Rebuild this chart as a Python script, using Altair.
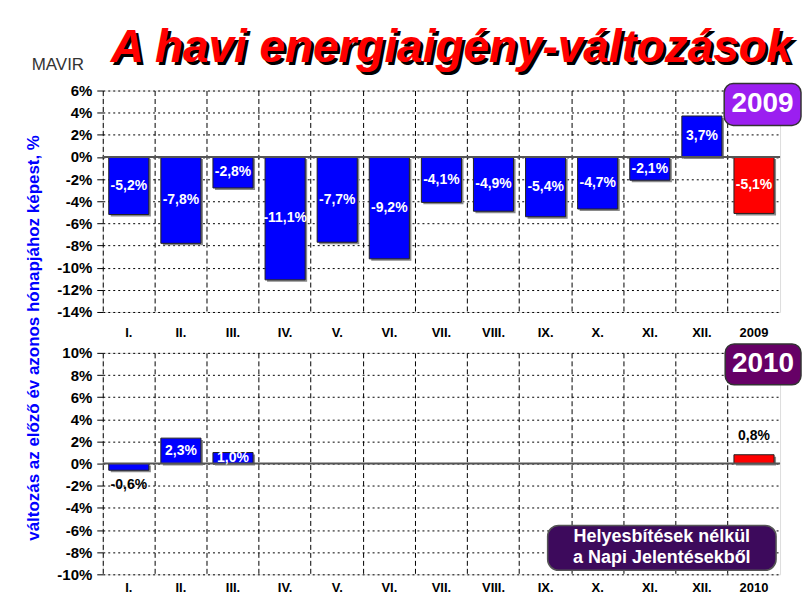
import altair as alt
import pandas as pd

# ---------------- data ----------------
months = ["I.", "II.", "III.", "IV.", "V.", "VI.", "VII.", "VIII.", "IX.", "X.", "XI.", "XII."]
cats_2009 = months + ["2009"]
vals_2009 = [-5.2, -7.8, -2.8, -11.1, -7.7, -9.2, -4.1, -4.9, -5.4, -4.7, -2.1, 3.7, -5.1]
cats_2010 = months + ["2010"]
vals_2010 = [-0.6, 2.3, 1.0, None, None, None, None, None, None, None, None, None, 0.8]
y_dom_2009 = [-14, 6]
y_dom_2010 = [-10, 10]
title_text = "A havi energiaigény-változások"
y_title_text = "változás az előző év azonos hónapjához képest, %"
note_lines = ["Helyesbítések nélkül", "a Napi Jelentésekből"]

FONT = "Liberation Sans"
W, H = 679, 222


def frame(cats, vals):
    rows = []
    for c, v in zip(cats, vals):
        if v is None:
            continue
        rows.append({
            "cat": c, "val": v, "mid": v / 2,
            "label": f"{v:.1f}%".replace(".", ","),
            "kind": "year" if c.isdigit() else "month",
            "place": "in" if abs(v) >= 0.9 else ("below" if v < 0 else "above"),
        })
    return pd.DataFrame(rows)


def one(text):
    return pd.DataFrame({"t": [text]})


def txt(text, x, y, **kw):
    return alt.Chart(one(text)).mark_text(**kw).encode(
        x=alt.value(x), y=alt.value(y), text="t:N")


def box(x, x2, y, y2, **kw):
    return alt.Chart(one("")).mark_rect(**kw).encode(
        x=alt.value(x), x2=alt.value(x2), y=alt.value(y), y2=alt.value(y2))


def panel(cats, vals, ydom, extras, xlab_pad):
    df = frame(cats, vals)
    base = alt.Chart(df)
    x = alt.X("cat:N", sort=cats, title=None,
              scale=alt.Scale(domain=cats, paddingInner=0, paddingOuter=0),
              axis=alt.Axis(labelAngle=0, ticks=False, domain=False, grid=True,
                            bandPosition=0, gridDash=[5, 3], gridColor="black",
                            gridWidth=1, labelPadding=xlab_pad, labelFont=FONT,
                            labelFontSize=13, labelFontWeight="bold",
                            labelColor="black"))
    yvals = list(range(ydom[0], ydom[1] + 1, 2))
    yscale = alt.Scale(domain=ydom, nice=False, zero=False)
    y = alt.Y("val:Q", title=None, scale=yscale,
              axis=alt.Axis(values=yvals, labelExpr="datum.value + '%'",
                            labelOverlap=False, grid=True, gridDash=[2, 3],
                            gridColor="black", gridWidth=1,
                            domain=False, tickSize=6, tickColor="black",
                            labelPadding=5, labelFont=FONT, labelFontSize=15,
                            labelFontWeight="bold", labelColor="black"))
    color = alt.Color("kind:N", legend=None,
                      scale=alt.Scale(domain=["month", "year"], range=["#0000FF", "#FF0000"]))
    shadow = base.mark_bar(color="#8a8a8a", xOffset=2, yOffset=2,
                           width=alt.RelativeBandSize(0.77)).encode(x=x, y=y)
    bars = base.mark_bar(stroke="#222222", strokeWidth=1,
                         width=alt.RelativeBandSize(0.77)).encode(x=x, y=y, color=color)
    zero = alt.Chart(pd.DataFrame({"val": [0]})).mark_rule(color="#555555", strokeWidth=2).encode(y=y)
    tstyle = dict(font=FONT, fontSize=14, fontWeight="bold", baseline="middle")
    t_in = base.transform_filter("datum.place === 'in'").transform_calculate(
        val="datum.mid").mark_text(color="white", **tstyle).encode(x=x, y=y, text="label:N")
    t_below = base.transform_filter("datum.place === 'below'").mark_text(
        color="black", dy=15, **tstyle).encode(x=x, y=y, text="label:N")
    t_above = base.transform_filter("datum.place === 'above'").mark_text(
        color="black", dy=-19, **tstyle).encode(x=x, y=y, text="label:N")
    return alt.layer(shadow, bars, zero, t_in, t_below, t_above, *extras).properties(width=W, height=H)


top_extras = [
    txt(".", -89, -76, opacity=0, align="left", baseline="top", fontSize=2),
    txt(title_text, 11, -26, font=FONT, fontSize=46, fontWeight="bold",
        fontStyle="italic", color="black", align="left", baseline="alphabetic"),
    txt(title_text, 8, -29, font=FONT, fontSize=46, fontWeight="bold",
        fontStyle="italic", color="#FF0000", align="left", baseline="alphabetic"),
    txt("MAVIR", -45, -21, font=FONT, fontSize=17, color="#333333", align="center",
        baseline="alphabetic"),
    txt(y_title_text, -69, 248, font=FONT, fontSize=17, fontWeight="bold", color="#0000FF",
        angle=270, align="center", baseline="middle"),
    box(623, 700, -7, 35, color="#9B1FF0", stroke="#333333", strokeWidth=1.5, cornerRadius=9),
    txt("2009", 661.5, 14, font=FONT, fontSize=28, fontWeight="bold", color="white",
        align="center", baseline="middle"),
]

bottom_extras = [
    txt(".", -89, 0, opacity=0, align="left", baseline="top", fontSize=2),
    box(624, 700, -9, 32, color="#660066", stroke="#333333", strokeWidth=1.5, cornerRadius=9),
    txt("2010", 662, 11.5, font=FONT, fontSize=28, fontWeight="bold", color="white",
        align="center", baseline="middle"),
    box(446, 675, 173, 218, color="#3D0A5C", stroke="#555555", strokeWidth=1.5, cornerRadius=11),
    txt(note_lines[0], 560.5, 185, font=FONT, fontSize=18, fontWeight="bold", color="white",
        align="center", baseline="middle"),
    txt(note_lines[1], 560.5, 206, font=FONT, fontSize=18, fontWeight="bold", color="white",
        align="center", baseline="middle"),
]

top = panel(cats_2009, vals_2009, y_dom_2009, top_extras, 15)
bottom = panel(cats_2010, vals_2010, y_dom_2010, bottom_extras, 7)

chart = alt.vconcat(top, bottom, spacing=41, bounds="flush").properties(
    padding={"left": 5, "top": 5, "right": 0, "bottom": 0}
).configure_view(stroke="black", strokeWidth=1).configure(background="white")

chart.save("out.html", embed_options={"renderer": "svg", "actions": False})
